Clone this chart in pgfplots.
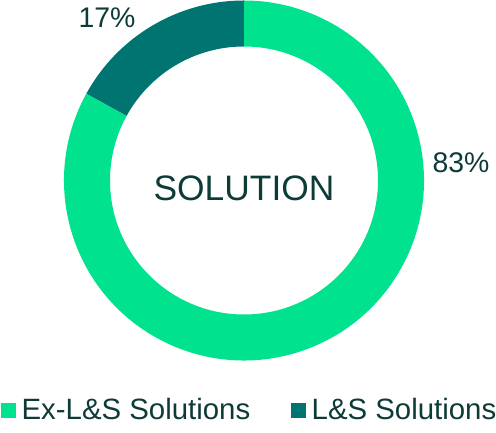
\documentclass[border=0pt]{standalone}
\usepackage{pgfplots}
\pgfplotsset{compat=1.18}
\usepackage{pgfplotstable}
\usepackage{fontspec}
\setmainfont{Liberation Sans}

\definecolor{exls}{HTML}{00E28E}
\definecolor{ls}{HTML}{007470}
\definecolor{txt}{HTML}{0D3B38}

% share of solutions, in percent
\pgfplotstableread{
label share
ExLS  83
LS    17
}\sharetable

\begin{document}
\begin{tikzpicture}
\pgfplotstablegetelem{1}{share}\of\sharetable
\pgfmathsetmacro{\angB}{90+\pgfplotsretval*3.6}
\begin{axis}[
    width=496bp, height=433bp, scale only axis,
    xmin=0, xmax=496, ymin=0, ymax=433,
    hide axis, clip=false,
    legend columns=2,
    legend image code/.code={\fill[#1] (0bp,-7bp) rectangle (14bp,7bp);},
    legend style={at={(axis cs:1,23)}, anchor=west, draw=none, fill=none,
        inner sep=0pt, text=txt, font=\fontsize{29.5}{31}\selectfont,
        /tikz/every odd column/.style={column sep=3bp},
        /tikz/every even column/.style={column sep=38bp},
        nodes={inner sep=3bp}},
]
\addlegendimage{exls}
\addlegendentry{Ex-L\&S Solutions}
\addlegendimage{ls}
\addlegendentry{L\&S Solutions}

\coordinate (c) at (axis cs:244,252.5);
\fill[ls] ([shift={(90:180bp)}]c) arc[start angle=90, end angle=\angB, radius=180bp]
    -- ([shift={(\angB:134bp)}]c) arc[start angle=\angB, end angle=90, radius=134bp] -- cycle;
\fill[exls] ([shift={(\angB:180bp)}]c) arc[start angle=\angB, end angle=450, radius=180bp]
    -- ([shift={(90:134bp)}]c) arc[start angle=450, end angle=\angB, radius=134bp] -- cycle;

\node[text=txt, font=\fontsize{28.5}{30}\selectfont] at (axis cs:107,415) {17\%};
\node[text=txt, font=\fontsize{28.5}{30}\selectfont] at (axis cs:461,270) {83\%};
\node[text=txt, font=\fontsize{35.5}{38}\selectfont] at (axis cs:244,245) {SOLUTION};
\end{axis}
\pgfresetboundingbox
\path (0,0) rectangle (496bp,433bp);
\end{tikzpicture}
\end{document}
